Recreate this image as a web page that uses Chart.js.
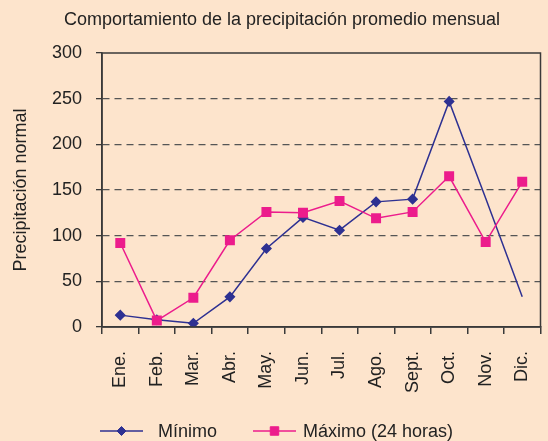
<!DOCTYPE html>
<html>
<head>
<meta charset="utf-8">
<script src="https://cdn.jsdelivr.net/npm/chart.js@4"></script>
<style>
  html, body { margin: 0; padding: 0; background: #fde4cc; }
  #wrap { width: 548px; height: 441px; }
</style>
</head>
<body>
<div id="wrap"><canvas id="lluvia" width="548" height="441"></canvas></div>
<script>
const meses = ['Ene.', 'Feb.', 'Mar.', 'Abr.', 'May.', 'Jun.', 'Jul.', 'Ago.', 'Sept.', 'Oct.', 'Nov.', 'Dic.'];
const minimo = [13, 8, 4, 33, 86, 120, 106, 137, 140, 247, 141, 33];
const maximo = [92, 7, 32, 95, 126, 125, 138, 119, 126, 165, 93, 159];
const yTicks = [0, 50, 100, 150, 200, 250, 300];
const titulo = 'Comportamiento de la precipitación promedio mensual';

const fuente = '"Liberation Sans", Arial, Helvetica, sans-serif';
const azul = '#2e3192';
const rosa = '#ec1c8c';

// fondo, titulo, marco del area y leyenda con linea + marcador
const extras = {
  id: 'extras',
  beforeDraw(chart) {
    const ctx = chart.ctx;
    ctx.save();
    ctx.fillStyle = '#fde4cc';
    ctx.fillRect(0, 0, chart.width, chart.height);
    ctx.fillStyle = '#222';
    ctx.font = '18px ' + fuente;
    ctx.textAlign = 'center';
    ctx.textBaseline = 'middle';
    ctx.fillText(titulo, 282, 20);
    ctx.restore();
  },
  afterDatasetsDraw(chart) {
    const { ctx, chartArea: a } = chart;
    ctx.save();
    ctx.strokeStyle = '#3a3a3a';
    ctx.lineWidth = 1.5;
    ctx.strokeRect(a.left, a.top, a.right - a.left, a.bottom - a.top);
    ctx.restore();
  },
  afterDraw(chart) {
    const ctx = chart.ctx;
    const y = 431;
    const items = [{ x: 100, tx: 158 }, { x: 253, tx: 303 }];
    ctx.save();
    chart.data.datasets.forEach((ds, i) => {
      const it = items[i];
      ctx.strokeStyle = ds.borderColor;
      ctx.lineWidth = 1.5;
      ctx.beginPath();
      ctx.moveTo(it.x, y);
      ctx.lineTo(it.x + 43, y);
      ctx.stroke();
      ctx.fillStyle = ds.backgroundColor;
      ctx.lineWidth = 1;
      Chart.helpers.drawPoint(ctx, {
        pointStyle: ds.pointStyle, radius: ds.legendRadius, borderWidth: 1
      }, it.x + 21.5, y);
      ctx.fillStyle = '#222';
      ctx.font = '18px ' + fuente;
      ctx.textBaseline = 'middle';
      ctx.fillText(ds.label, it.tx, y + 1);
    });
    ctx.restore();
  }
};

new Chart(document.getElementById('lluvia'), {
  type: 'line',
  data: {
    labels: meses,
    datasets: [{
      label: 'Mínimo',
      data: minimo,
      borderColor: azul,
      backgroundColor: azul,
      pointStyle: 'rectRot',
      pointRadius: [4.5, 4.5, 4.5, 4.5, 4.5, 4.5, 4.5, 4.5, 4.5, 4.5, 0, 0],
      legendRadius: 4.5,
      borderWidth: 1.5,
      order: 2
    }, {
      label: 'Máximo (24 horas)',
      data: maximo,
      borderColor: rosa,
      backgroundColor: rosa,
      pointStyle: 'rect',
      pointRadius: 6,
      legendRadius: 6,
      borderWidth: 1.5,
      order: 1
    }]
  },
  options: {
    responsive: false,
    animation: false,
    devicePixelRatio: 1,
    layout: { padding: { left: 0, right: 2, top: 53, bottom: 34 } },
    plugins: {
      legend: { display: false },
      tooltip: { enabled: false },
      title: { display: false }
    },
    scales: {
      x: {
        offset: true,
        grid: { offset: true, drawOnChartArea: false, tickLength: 7, color: '#3a3a3a', lineWidth: 1.5 },
        border: { color: '#3a3a3a', width: 1.5 },
        ticks: {
          color: '#222',
          font: { family: fuente, size: 18 },
          minRotation: 90,
          maxRotation: 90,
          autoSkip: false,
          padding: 17
        },
        afterFit(scale) {
          scale.height = 80;
          scale.paddingLeft = 0;
          scale.paddingRight = 0;
        }
      },
      y: {
        min: 0,
        max: 300,
        afterBuildTicks(scale) { scale.ticks = yTicks.map(v => ({ value: v })); },
        border: { color: '#3a3a3a', width: 1.5, dash: [7, 5] },
        grid: {
          color: ctx => (ctx.tick && ctx.tick.value > 0 && ctx.tick.value < 300) ? '#555' : 'rgba(0,0,0,0)',
          tickColor: '#3a3a3a',
          tickLength: 6,
          lineWidth: 1.3
        },
        ticks: {
          color: '#222',
          font: { family: fuente, size: 18 },
          padding: 14
        },
        title: {
          display: true,
          text: 'Precipitación normal',
          color: '#222',
          font: { family: fuente, size: 18 },
          padding: { top: 10, bottom: 4 }
        },
        afterFit(scale) { scale.width = 102; }
      }
    }
  },
  plugins: [extras]
});
</script>
</body>
</html>
